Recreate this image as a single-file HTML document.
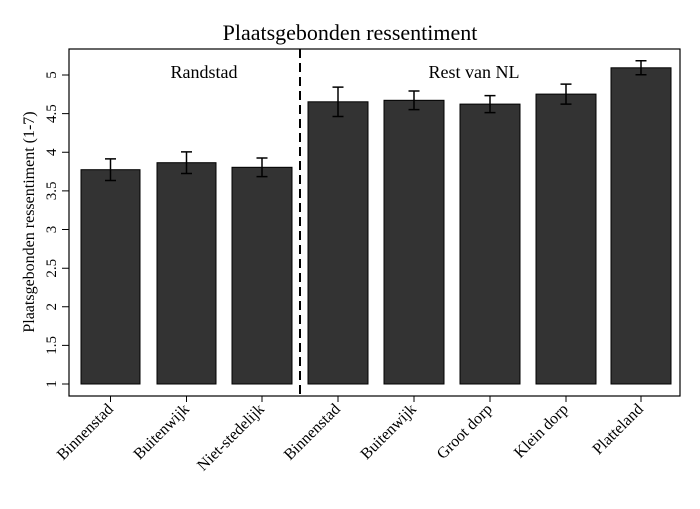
<!DOCTYPE html>
<html><head><style>body{margin:0;background:#fff}svg{display:block}</style></head><body>
<svg width="700" height="509" xmlns="http://www.w3.org/2000/svg" font-family="Liberation Serif, serif">
<rect width="700" height="509" fill="#fff"/>
<text x="350" y="40" text-anchor="middle" font-size="22">Plaatsgebonden ressentiment</text>
<g fill="#333" stroke="#000" stroke-width="1">
<rect x="81" y="169.7" width="59" height="214.3"/>
<rect x="157" y="162.7" width="59" height="221.3"/>
<rect x="232" y="167.3" width="60" height="216.7"/>
<rect x="308" y="101.8" width="60" height="282.2"/>
<rect x="384" y="100.3" width="60" height="283.7"/>
<rect x="460" y="104.1" width="60" height="279.9"/>
<rect x="536" y="94.1" width="60" height="289.9"/>
<rect x="611" y="67.8" width="60" height="316.2"/>
</g>
<g stroke="#000" stroke-width="1.5" fill="none">
<path d="M110.5 158.9V180.5M105 158.9h11M105 180.5h11"/>
<path d="M186.5 151.9V173.5M181 151.9h11M181 173.5h11"/>
<path d="M262 158V176.6M256.5 158h11M256.5 176.6h11"/>
<path d="M338 87.1V116.5M332.5 87.1h11M332.5 116.5h11"/>
<path d="M414 91V109.6M408.5 91h11M408.5 109.6h11"/>
<path d="M490 95.6V112.6M484.5 95.6h11M484.5 112.6h11"/>
<path d="M566 84.1V104.1M560.5 84.1h11M560.5 104.1h11"/>
<path d="M641 60.8V74.8M635.5 60.8h11M635.5 74.8h11"/>
</g>
<line x1="300" y1="49" x2="300" y2="396" stroke="#000" stroke-width="2" stroke-dasharray="9,5"/>
<rect x="69" y="49" width="611" height="347" fill="none" stroke="#000" stroke-width="1.2"/>
<text x="204" y="78" text-anchor="middle" font-size="18">Randstad</text>
<text x="474" y="78" text-anchor="middle" font-size="18">Rest van NL</text>
<g stroke="#000" stroke-width="1">
<path d="M62 75h7M62 113.6h7M62 152.3h7M62 190.9h7M62 229.5h7M62 268.2h7M62 306.8h7M62 345.4h7M62 384h7"/>
<path d="M110.5 396v6M186.5 396v6M262 396v6M338 396v6M414 396v6M490 396v6M566 396v6M641 396v6"/>
</g>
<g font-size="15" text-anchor="middle">
<text transform="translate(56,75) rotate(-90)">5</text>
<text transform="translate(56,113.6) rotate(-90)">4.5</text>
<text transform="translate(56,152.3) rotate(-90)">4</text>
<text transform="translate(56,190.9) rotate(-90)">3.5</text>
<text transform="translate(56,229.5) rotate(-90)">3</text>
<text transform="translate(56,268.2) rotate(-90)">2.5</text>
<text transform="translate(56,306.8) rotate(-90)">2</text>
<text transform="translate(56,345.4) rotate(-90)">1.5</text>
<text transform="translate(56,384) rotate(-90)">1</text>
<text transform="translate(34,222) rotate(-90)" font-size="16">Plaatsgebonden ressentiment (1-7)</text>
</g>
<g font-size="16" text-anchor="end">
<text transform="translate(114,410) rotate(-45)">Binnenstad</text>
<text transform="translate(190,410) rotate(-45)">Buitenwijk</text>
<text transform="translate(265,410) rotate(-45)">Niet-stedelijk</text>
<text transform="translate(341,410) rotate(-45)">Binnenstad</text>
<text transform="translate(417,410) rotate(-45)">Buitenwijk</text>
<text transform="translate(493,410) rotate(-45)">Groot dorp</text>
<text transform="translate(569,410) rotate(-45)">Klein dorp</text>
<text transform="translate(644,410) rotate(-45)">Platteland</text>
</g>
</svg>
</body></html>
